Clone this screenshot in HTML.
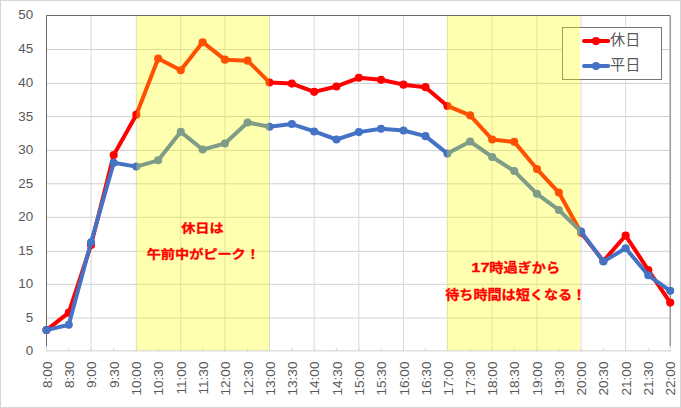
<!DOCTYPE html>
<html lang="ja"><head><meta charset="utf-8"><title>待ち時間グラフ</title>
<style>
html,body{margin:0;padding:0;background:#fff;}
body{width:681px;height:408px;overflow:hidden;}
svg{display:block;}
.lat{font-family:"Liberation Sans",sans-serif;}
.jp{font-family:"Liberation Sans","Noto Sans CJK JP",sans-serif;}
</style></head><body>
<svg width="681" height="408" viewBox="0 0 681 408">
<rect x="0" y="0" width="681" height="408" fill="#ffffff"/>
<rect x="0.5" y="0.5" width="680" height="407" fill="#ffffff" stroke="#d6d6d6" stroke-width="1"/>
<line x1="46.5" x2="670.2" y1="318.00" y2="318.00" stroke="#cfcfcf" stroke-width="1"/>
<line x1="46.5" x2="670.2" y1="284.30" y2="284.30" stroke="#cfcfcf" stroke-width="1"/>
<line x1="46.5" x2="670.2" y1="251.30" y2="251.30" stroke="#cfcfcf" stroke-width="1"/>
<line x1="46.5" x2="670.2" y1="217.30" y2="217.30" stroke="#cfcfcf" stroke-width="1"/>
<line x1="46.5" x2="670.2" y1="183.80" y2="183.80" stroke="#cfcfcf" stroke-width="1"/>
<line x1="46.5" x2="670.2" y1="150.40" y2="150.40" stroke="#cfcfcf" stroke-width="1"/>
<line x1="46.5" x2="670.2" y1="116.60" y2="116.60" stroke="#cfcfcf" stroke-width="1"/>
<line x1="46.5" x2="670.2" y1="83.40" y2="83.40" stroke="#cfcfcf" stroke-width="1"/>
<line x1="46.5" x2="670.2" y1="49.50" y2="49.50" stroke="#cfcfcf" stroke-width="1"/>
<line x1="91.05" x2="91.05" y1="15.5" y2="350.9" stroke="#d9d9d9" stroke-width="1"/>
<line x1="136.35" x2="136.35" y1="15.5" y2="350.9" stroke="#d9d9d9" stroke-width="1"/>
<line x1="180.75" x2="180.75" y1="15.5" y2="350.9" stroke="#d9d9d9" stroke-width="1"/>
<line x1="224.90" x2="224.90" y1="15.5" y2="350.9" stroke="#d9d9d9" stroke-width="1"/>
<line x1="269.50" x2="269.50" y1="15.5" y2="350.9" stroke="#d9d9d9" stroke-width="1"/>
<line x1="314.20" x2="314.20" y1="15.5" y2="350.9" stroke="#d9d9d9" stroke-width="1"/>
<line x1="358.85" x2="358.85" y1="15.5" y2="350.9" stroke="#d9d9d9" stroke-width="1"/>
<line x1="403.50" x2="403.50" y1="15.5" y2="350.9" stroke="#d9d9d9" stroke-width="1"/>
<line x1="447.45" x2="447.45" y1="15.5" y2="350.9" stroke="#d9d9d9" stroke-width="1"/>
<line x1="492.20" x2="492.20" y1="15.5" y2="350.9" stroke="#d9d9d9" stroke-width="1"/>
<line x1="536.95" x2="536.95" y1="15.5" y2="350.9" stroke="#d9d9d9" stroke-width="1"/>
<line x1="581.10" x2="581.10" y1="15.5" y2="350.9" stroke="#d9d9d9" stroke-width="1"/>
<line x1="625.65" x2="625.65" y1="15.5" y2="350.9" stroke="#d9d9d9" stroke-width="1"/>
<polyline points="46.5,346 46.5,15.5 670.2,15.5 670.2,346" fill="none" stroke="#686868" stroke-width="1"/>
<line x1="46.0" x2="670.7" y1="350.9" y2="350.9" stroke="#d9d9d9" stroke-width="1.3"/>
<line x1="46.50" x2="46.50" y1="345.9" y2="351.4" stroke="#d9d9d9" stroke-width="1"/>
<line x1="68.78" x2="68.78" y1="347.9" y2="351.4" stroke="#d9d9d9" stroke-width="1"/>
<line x1="91.05" x2="91.05" y1="347.9" y2="351.4" stroke="#d9d9d9" stroke-width="1"/>
<line x1="113.73" x2="113.73" y1="347.9" y2="351.4" stroke="#d9d9d9" stroke-width="1"/>
<line x1="136.35" x2="136.35" y1="347.9" y2="351.4" stroke="#d9d9d9" stroke-width="1"/>
<line x1="158.18" x2="158.18" y1="347.9" y2="351.4" stroke="#d9d9d9" stroke-width="1"/>
<line x1="180.75" x2="180.75" y1="347.9" y2="351.4" stroke="#d9d9d9" stroke-width="1"/>
<line x1="202.62" x2="202.62" y1="347.9" y2="351.4" stroke="#d9d9d9" stroke-width="1"/>
<line x1="224.90" x2="224.90" y1="347.9" y2="351.4" stroke="#d9d9d9" stroke-width="1"/>
<line x1="247.58" x2="247.58" y1="347.9" y2="351.4" stroke="#d9d9d9" stroke-width="1"/>
<line x1="269.50" x2="269.50" y1="347.9" y2="351.4" stroke="#d9d9d9" stroke-width="1"/>
<line x1="291.83" x2="291.83" y1="347.9" y2="351.4" stroke="#d9d9d9" stroke-width="1"/>
<line x1="314.20" x2="314.20" y1="347.9" y2="351.4" stroke="#d9d9d9" stroke-width="1"/>
<line x1="336.48" x2="336.48" y1="347.9" y2="351.4" stroke="#d9d9d9" stroke-width="1"/>
<line x1="358.85" x2="358.85" y1="347.9" y2="351.4" stroke="#d9d9d9" stroke-width="1"/>
<line x1="381.03" x2="381.03" y1="347.9" y2="351.4" stroke="#d9d9d9" stroke-width="1"/>
<line x1="403.50" x2="403.50" y1="347.9" y2="351.4" stroke="#d9d9d9" stroke-width="1"/>
<line x1="425.48" x2="425.48" y1="347.9" y2="351.4" stroke="#d9d9d9" stroke-width="1"/>
<line x1="447.45" x2="447.45" y1="347.9" y2="351.4" stroke="#d9d9d9" stroke-width="1"/>
<line x1="470.12" x2="470.12" y1="347.9" y2="351.4" stroke="#d9d9d9" stroke-width="1"/>
<line x1="492.20" x2="492.20" y1="347.9" y2="351.4" stroke="#d9d9d9" stroke-width="1"/>
<line x1="514.28" x2="514.28" y1="347.9" y2="351.4" stroke="#d9d9d9" stroke-width="1"/>
<line x1="536.95" x2="536.95" y1="347.9" y2="351.4" stroke="#d9d9d9" stroke-width="1"/>
<line x1="558.83" x2="558.83" y1="347.9" y2="351.4" stroke="#d9d9d9" stroke-width="1"/>
<line x1="581.10" x2="581.10" y1="347.9" y2="351.4" stroke="#d9d9d9" stroke-width="1"/>
<line x1="603.38" x2="603.38" y1="347.9" y2="351.4" stroke="#d9d9d9" stroke-width="1"/>
<line x1="625.65" x2="625.65" y1="347.9" y2="351.4" stroke="#d9d9d9" stroke-width="1"/>
<line x1="648.33" x2="648.33" y1="347.9" y2="351.4" stroke="#d9d9d9" stroke-width="1"/>
<line x1="670.20" x2="670.20" y1="345.9" y2="351.4" stroke="#d9d9d9" stroke-width="1"/>
<polyline points="46.50,330.12 68.78,312.67 91.05,244.88 113.73,154.94 136.35,114.67 158.18,58.49 180.75,70.23 202.62,42.18 224.90,59.63 247.58,60.63 269.50,82.45 291.83,83.59 314.20,91.85 336.48,86.48 358.85,77.82 381.03,79.83 403.50,84.66 425.48,87.15 447.45,105.94 470.12,115.34 492.20,139.50 514.28,141.85 536.95,169.03 558.83,192.53 581.10,232.80 603.38,260.99 625.65,235.55 648.33,270.05 670.20,302.60" fill="none" stroke="#ff0000" stroke-width="4.0" stroke-linejoin="round" stroke-linecap="round"/>
<circle cx="46.50" cy="330.12" r="4.05" fill="#ff0000"/>
<circle cx="68.78" cy="312.67" r="4.05" fill="#ff0000"/>
<circle cx="91.05" cy="244.88" r="4.05" fill="#ff0000"/>
<circle cx="113.73" cy="154.94" r="4.05" fill="#ff0000"/>
<circle cx="136.35" cy="114.67" r="4.05" fill="#ff0000"/>
<circle cx="158.18" cy="58.49" r="4.05" fill="#ff0000"/>
<circle cx="180.75" cy="70.23" r="4.05" fill="#ff0000"/>
<circle cx="202.62" cy="42.18" r="4.05" fill="#ff0000"/>
<circle cx="224.90" cy="59.63" r="4.05" fill="#ff0000"/>
<circle cx="247.58" cy="60.63" r="4.05" fill="#ff0000"/>
<circle cx="269.50" cy="82.45" r="4.05" fill="#ff0000"/>
<circle cx="291.83" cy="83.59" r="4.05" fill="#ff0000"/>
<circle cx="314.20" cy="91.85" r="4.05" fill="#ff0000"/>
<circle cx="336.48" cy="86.48" r="4.05" fill="#ff0000"/>
<circle cx="358.85" cy="77.82" r="4.05" fill="#ff0000"/>
<circle cx="381.03" cy="79.83" r="4.05" fill="#ff0000"/>
<circle cx="403.50" cy="84.66" r="4.05" fill="#ff0000"/>
<circle cx="425.48" cy="87.15" r="4.05" fill="#ff0000"/>
<circle cx="447.45" cy="105.94" r="4.05" fill="#ff0000"/>
<circle cx="470.12" cy="115.34" r="4.05" fill="#ff0000"/>
<circle cx="492.20" cy="139.50" r="4.05" fill="#ff0000"/>
<circle cx="514.28" cy="141.85" r="4.05" fill="#ff0000"/>
<circle cx="536.95" cy="169.03" r="4.05" fill="#ff0000"/>
<circle cx="558.83" cy="192.53" r="4.05" fill="#ff0000"/>
<circle cx="581.10" cy="232.80" r="4.05" fill="#ff0000"/>
<circle cx="603.38" cy="260.99" r="4.05" fill="#ff0000"/>
<circle cx="625.65" cy="235.55" r="4.05" fill="#ff0000"/>
<circle cx="648.33" cy="270.05" r="4.05" fill="#ff0000"/>
<circle cx="670.20" cy="302.60" r="4.05" fill="#ff0000"/>
<polyline points="46.50,330.12 68.78,324.75 91.05,242.19 113.73,162.79 136.35,166.62 158.18,160.31 180.75,131.85 202.62,149.57 224.90,143.53 247.58,122.52 269.50,126.75 291.83,124.06 314.20,131.45 336.48,139.50 358.85,132.12 381.03,128.76 403.50,130.44 425.48,136.14 447.45,153.60 470.12,141.51 492.20,156.95 514.28,171.05 536.95,193.87 558.83,209.98 581.10,231.66 603.38,261.52 625.65,248.30 648.33,275.28 670.20,290.86" fill="none" stroke="#4472c4" stroke-width="4.0" stroke-linejoin="round" stroke-linecap="round"/>
<circle cx="46.50" cy="330.12" r="4.05" fill="#4472c4"/>
<circle cx="68.78" cy="324.75" r="4.05" fill="#4472c4"/>
<circle cx="91.05" cy="242.19" r="4.05" fill="#4472c4"/>
<circle cx="113.73" cy="162.79" r="4.05" fill="#4472c4"/>
<circle cx="136.35" cy="166.62" r="4.05" fill="#4472c4"/>
<circle cx="158.18" cy="160.31" r="4.05" fill="#4472c4"/>
<circle cx="180.75" cy="131.85" r="4.05" fill="#4472c4"/>
<circle cx="202.62" cy="149.57" r="4.05" fill="#4472c4"/>
<circle cx="224.90" cy="143.53" r="4.05" fill="#4472c4"/>
<circle cx="247.58" cy="122.52" r="4.05" fill="#4472c4"/>
<circle cx="269.50" cy="126.75" r="4.05" fill="#4472c4"/>
<circle cx="291.83" cy="124.06" r="4.05" fill="#4472c4"/>
<circle cx="314.20" cy="131.45" r="4.05" fill="#4472c4"/>
<circle cx="336.48" cy="139.50" r="4.05" fill="#4472c4"/>
<circle cx="358.85" cy="132.12" r="4.05" fill="#4472c4"/>
<circle cx="381.03" cy="128.76" r="4.05" fill="#4472c4"/>
<circle cx="403.50" cy="130.44" r="4.05" fill="#4472c4"/>
<circle cx="425.48" cy="136.14" r="4.05" fill="#4472c4"/>
<circle cx="447.45" cy="153.60" r="4.05" fill="#4472c4"/>
<circle cx="470.12" cy="141.51" r="4.05" fill="#4472c4"/>
<circle cx="492.20" cy="156.95" r="4.05" fill="#4472c4"/>
<circle cx="514.28" cy="171.05" r="4.05" fill="#4472c4"/>
<circle cx="536.95" cy="193.87" r="4.05" fill="#4472c4"/>
<circle cx="558.83" cy="209.98" r="4.05" fill="#4472c4"/>
<circle cx="581.10" cy="231.66" r="4.05" fill="#4472c4"/>
<circle cx="603.38" cy="261.52" r="4.05" fill="#4472c4"/>
<circle cx="625.65" cy="248.30" r="4.05" fill="#4472c4"/>
<circle cx="648.33" cy="275.28" r="4.05" fill="#4472c4"/>
<circle cx="670.20" cy="290.86" r="4.05" fill="#4472c4"/>
<rect x="562.5" y="27.5" width="99" height="52" fill="#ffffff" stroke="#787878" stroke-width="1"/>
<line x1="584" x2="608.2" y1="41.1" y2="41.1" stroke="#ff0000" stroke-width="4.0" stroke-linecap="round"/>
<circle cx="596" cy="41.1" r="4.05" fill="#ff0000"/>
<text x="610" y="44.5" font-size="15.2" fill="#595959" class="jp">休日</text>
<line x1="584" x2="608.2" y1="66.1" y2="66.1" stroke="#4472c4" stroke-width="4.0" stroke-linecap="round"/>
<circle cx="596" cy="66.1" r="4.05" fill="#4472c4"/>
<text x="610" y="70.0" font-size="15.2" fill="#595959" class="jp">平日</text>
<rect x="136.5" y="16" width="132.70" height="334.4" fill="#ffff00" fill-opacity="0.31"/>
<rect x="447.0" y="16" width="132.90" height="334.4" fill="#ffff00" fill-opacity="0.31"/>
<text transform="translate(33.1,355.10) scale(0.98,1)" font-size="13.7" fill="#595959" text-anchor="end" class="lat">0</text>
<text transform="translate(33.1,321.90) scale(0.98,1)" font-size="13.7" fill="#595959" text-anchor="end" class="lat">5</text>
<text transform="translate(33.1,288.20) scale(0.98,1)" font-size="13.7" fill="#595959" text-anchor="end" class="lat">10</text>
<text transform="translate(33.1,255.20) scale(0.98,1)" font-size="13.7" fill="#595959" text-anchor="end" class="lat">15</text>
<text transform="translate(33.1,221.20) scale(0.98,1)" font-size="13.7" fill="#595959" text-anchor="end" class="lat">20</text>
<text transform="translate(33.1,187.70) scale(0.98,1)" font-size="13.7" fill="#595959" text-anchor="end" class="lat">25</text>
<text transform="translate(33.1,154.30) scale(0.98,1)" font-size="13.7" fill="#595959" text-anchor="end" class="lat">30</text>
<text transform="translate(33.1,120.50) scale(0.98,1)" font-size="13.7" fill="#595959" text-anchor="end" class="lat">35</text>
<text transform="translate(33.1,87.30) scale(0.98,1)" font-size="13.7" fill="#595959" text-anchor="end" class="lat">40</text>
<text transform="translate(33.1,53.40) scale(0.98,1)" font-size="13.7" fill="#595959" text-anchor="end" class="lat">45</text>
<text transform="translate(33.1,19.30) scale(0.98,1)" font-size="13.7" fill="#595959" text-anchor="end" class="lat">50</text>
<text transform="translate(51.60,361.5) rotate(-90) scale(1.01,1)" font-size="13.5" fill="#595959" text-anchor="end" class="lat">8:00</text>
<text transform="translate(73.88,361.5) rotate(-90) scale(1.01,1)" font-size="13.5" fill="#595959" text-anchor="end" class="lat">8:30</text>
<text transform="translate(96.15,361.5) rotate(-90) scale(1.01,1)" font-size="13.5" fill="#595959" text-anchor="end" class="lat">9:00</text>
<text transform="translate(118.83,361.5) rotate(-90) scale(1.01,1)" font-size="13.5" fill="#595959" text-anchor="end" class="lat">9:30</text>
<text transform="translate(141.45,361.5) rotate(-90) scale(1.01,1)" font-size="13.5" fill="#595959" text-anchor="end" class="lat">10:00</text>
<text transform="translate(163.28,361.5) rotate(-90) scale(1.01,1)" font-size="13.5" fill="#595959" text-anchor="end" class="lat">10:30</text>
<text transform="translate(185.85,361.5) rotate(-90) scale(1.01,1)" font-size="13.5" fill="#595959" text-anchor="end" class="lat">11:00</text>
<text transform="translate(207.72,361.5) rotate(-90) scale(1.01,1)" font-size="13.5" fill="#595959" text-anchor="end" class="lat">11:30</text>
<text transform="translate(230.00,361.5) rotate(-90) scale(1.01,1)" font-size="13.5" fill="#595959" text-anchor="end" class="lat">12:00</text>
<text transform="translate(252.68,361.5) rotate(-90) scale(1.01,1)" font-size="13.5" fill="#595959" text-anchor="end" class="lat">12:30</text>
<text transform="translate(274.60,361.5) rotate(-90) scale(1.01,1)" font-size="13.5" fill="#595959" text-anchor="end" class="lat">13:00</text>
<text transform="translate(296.93,361.5) rotate(-90) scale(1.01,1)" font-size="13.5" fill="#595959" text-anchor="end" class="lat">13:30</text>
<text transform="translate(319.30,361.5) rotate(-90) scale(1.01,1)" font-size="13.5" fill="#595959" text-anchor="end" class="lat">14:00</text>
<text transform="translate(341.58,361.5) rotate(-90) scale(1.01,1)" font-size="13.5" fill="#595959" text-anchor="end" class="lat">14:30</text>
<text transform="translate(363.95,361.5) rotate(-90) scale(1.01,1)" font-size="13.5" fill="#595959" text-anchor="end" class="lat">15:00</text>
<text transform="translate(386.13,361.5) rotate(-90) scale(1.01,1)" font-size="13.5" fill="#595959" text-anchor="end" class="lat">15:30</text>
<text transform="translate(408.60,361.5) rotate(-90) scale(1.01,1)" font-size="13.5" fill="#595959" text-anchor="end" class="lat">16:00</text>
<text transform="translate(430.58,361.5) rotate(-90) scale(1.01,1)" font-size="13.5" fill="#595959" text-anchor="end" class="lat">16:30</text>
<text transform="translate(452.55,361.5) rotate(-90) scale(1.01,1)" font-size="13.5" fill="#595959" text-anchor="end" class="lat">17:00</text>
<text transform="translate(475.23,361.5) rotate(-90) scale(1.01,1)" font-size="13.5" fill="#595959" text-anchor="end" class="lat">17:30</text>
<text transform="translate(497.30,361.5) rotate(-90) scale(1.01,1)" font-size="13.5" fill="#595959" text-anchor="end" class="lat">18:00</text>
<text transform="translate(519.38,361.5) rotate(-90) scale(1.01,1)" font-size="13.5" fill="#595959" text-anchor="end" class="lat">18:30</text>
<text transform="translate(542.05,361.5) rotate(-90) scale(1.01,1)" font-size="13.5" fill="#595959" text-anchor="end" class="lat">19:00</text>
<text transform="translate(563.93,361.5) rotate(-90) scale(1.01,1)" font-size="13.5" fill="#595959" text-anchor="end" class="lat">19:30</text>
<text transform="translate(586.20,361.5) rotate(-90) scale(1.01,1)" font-size="13.5" fill="#595959" text-anchor="end" class="lat">20:00</text>
<text transform="translate(608.48,361.5) rotate(-90) scale(1.01,1)" font-size="13.5" fill="#595959" text-anchor="end" class="lat">20:30</text>
<text transform="translate(630.75,361.5) rotate(-90) scale(1.01,1)" font-size="13.5" fill="#595959" text-anchor="end" class="lat">21:00</text>
<text transform="translate(653.43,361.5) rotate(-90) scale(1.01,1)" font-size="13.5" fill="#595959" text-anchor="end" class="lat">21:30</text>
<text transform="translate(675.30,361.5) rotate(-90) scale(1.01,1)" font-size="13.5" fill="#595959" text-anchor="end" class="lat">22:00</text>
<text transform="translate(202.4,233.4) scale(1.05,0.9)" font-size="13.5" font-weight="bold" fill="#ff0000" stroke="#ff0000" stroke-width="0.3" text-anchor="middle" class="jp">休日は</text>
<text transform="translate(203.3,259.1) scale(1.05,0.9)" font-size="13.5" font-weight="bold" fill="#ff0000" stroke="#ff0000" stroke-width="0.3" text-anchor="middle" class="jp">午前中がピーク！</text>
<text transform="translate(489.6,272) scale(1.22,0.96)" font-size="13.5" font-weight="bold" fill="#ff0000" stroke="#ff0000" stroke-width="0.3" text-anchor="end" class="lat">17</text>
<text transform="translate(489.3,272) scale(1.05,0.93)" font-size="13.5" font-weight="bold" fill="#ff0000" stroke="#ff0000" stroke-width="0.3" text-anchor="start" class="jp">時過ぎから</text>
<text transform="translate(515.7,298.5) scale(1.045,0.94)" font-size="13.5" font-weight="bold" fill="#ff0000" stroke="#ff0000" stroke-width="0.3" text-anchor="middle" class="jp">待ち時間は短くなる！</text>
</svg>
</body></html>
